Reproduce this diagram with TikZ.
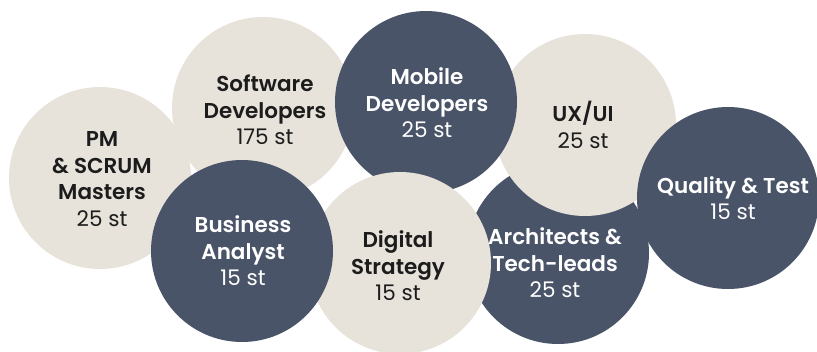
\documentclass[tikz,border=0pt]{standalone}
\usepackage{fontspec}
\setmainfont{Poppins}[BoldFont={Poppins SemiBold}]
\definecolor{slate}{HTML}{4A5469}
\definecolor{sand}{HTML}{E7E3DB}
\definecolor{ink}{HTML}{1C1C1C}
\tikzset{
  bubble/.style={circle, inner sep=0pt, minimum size=182pt},
  darkb/.style={bubble, fill=slate},
  lightb/.style={bubble, fill=sand},
  txt/.style={align=center, font=\fontsize{21.5}{26.5}\selectfont, inner sep=0pt},
  ontxt/.style={txt, text=white},
  intxt/.style={txt, text=ink},
}
\newcommand{\hd}[1]{\textbf{#1}}
\begin{document}
\begin{tikzpicture}[x=1pt,y=-1pt]
\useasboundingbox (0,0) rectangle (817,351);
\node[lightb] (pm) at (100,178) {};
\node[lightb] (sw) at (263,108) {};
\node[darkb] (arch) at (558,253) {};
\node[lightb] (ux) at (585,125) {};
\node[darkb] (mob) at (426,102) {};
\node[lightb] (dig) at (400,263) {};
\node[darkb] (ba) at (242,251) {};
\node[darkb] (qa) at (728,198) {};
\node[intxt] (pmt) at (102,179) {\hd{PM}\\\hd{\& SCRUM}\\\hd{Masters}\\25 st};
\node[intxt] (swt) at (265,110) {\hd{Software}\\\hd{Developers}\\175 st};
\node[ontxt] (mobt) at (427,103) {\hd{Mobile}\\\hd{Developers}\\25 st};
\node[intxt] (uxt) at (583,125) {\hd{UX/UI}\\25 st};
\node[ontxt] (qat) at (733,198) {\hd{Quality \& Test}\\15 st};
\node[ontxt] (bat) at (243,251) {\hd{Business}\\\hd{Analyst}\\15 st};
\node[intxt] (digt) at (398,266) {\hd{Digital}\\\hd{Strategy}\\15 st};
\node[ontxt] (archt) at (555,263) {\hd{Architects \&}\\\hd{Tech-leads}\\25 st};
\end{tikzpicture}
\end{document}
